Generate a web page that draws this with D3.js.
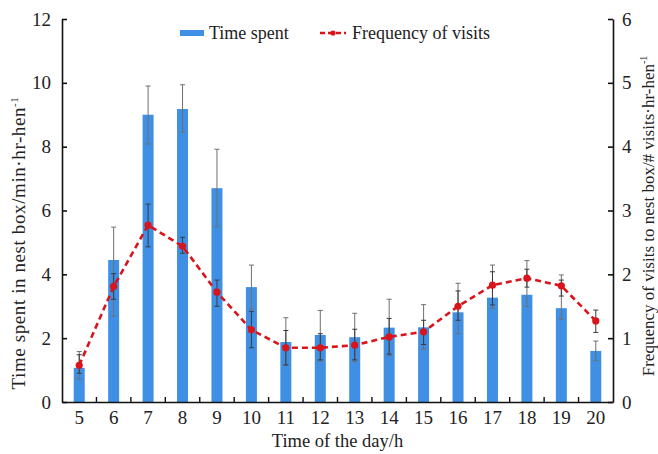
<!DOCTYPE html>
<html>
<head>
<meta charset="utf-8">
<script src="https://cdn.jsdelivr.net/npm/d3@7"></script>
<style>
  body { margin: 0; background: #fff; }
  text { font-family: "Liberation Serif", "Times New Roman", serif; fill: #222; }
</style>
</head>
<body>
<div id="chart"></div>
<script>
// hours of the day
const hours = [5, 6, 7, 8, 9, 10, 11, 12, 13, 14, 15, 16, 17, 18, 19, 20];
// time spent in nest box (min/hr/hen), with error bar ends
const timeMean = [1.07, 4.45, 9.0, 9.18, 6.7, 3.6, 1.88, 2.1, 2.03, 2.33, 2.34, 2.81, 3.27, 3.36, 2.94, 1.6];
const timeHi = [1.58, 5.48, 9.9, 9.94, 7.92, 4.29, 2.64, 2.87, 2.78, 3.22, 3.05, 3.72, 4.29, 4.43, 3.98, 1.91];
const timeLo = [0.72, 2.69, 8.08, 8.46, 5.49, 2.91, 1.16, 1.28, 1.26, 1.45, 1.66, 2.15, 2.94, 2.99, 2.59, 1.29];
// frequency of visits (visits/hr/hen), with error bar ends
const visitMean = [0.575, 1.81, 2.77, 2.44, 1.72, 1.13, 0.85, 0.85, 0.89, 1.02, 1.1, 1.5, 1.83, 1.94, 1.82, 1.27];
const visitHi = [0.74, 2.01, 3.1, 2.58, 1.91, 1.42, 1.12, 1.07, 1.14, 1.31, 1.28, 1.74, 2.04, 2.08, 1.91, 1.44];
const visitLo = [0.45, 1.61, 2.43, 2.33, 1.5, 0.85, 0.58, 0.66, 0.66, 0.75, 0.9, 1.28, 1.52, 1.8, 1.66, 1.09];
const leftTicks = [0, 2, 4, 6, 8, 10, 12];
const rightTicks = [0, 1, 2, 3, 4, 5, 6];

const width = 658, height = 454;
const margin = {top: 19, right: 45, bottom: 52, left: 62};

const svg = d3.select("#chart").append("svg")
  .attr("width", width).attr("height", height);

const x = d3.scaleBand().domain(hours)
  .range([margin.left, width - margin.right]);
const yL = d3.scaleLinear().domain([0, 12]).range([height - margin.bottom, margin.top]);
const yR = d3.scaleLinear().domain([0, 6]).range([height - margin.bottom, margin.top]);
const cx = h => x(h) + x.bandwidth() / 2;
const barW = 11;

//Bars
svg.selectAll("rect.bar")
  .data(hours)
  .enter()
  .append("rect")
  .attr("class", "bar")
  .attr("x", (h) => cx(h) - barW / 2)
  .attr("y", (h, i) => yL(timeMean[i]))
  .attr("width", barW)
  .attr("height", (h, i) => yL(0) - yL(timeMean[i]))
  .attr("fill", "#3f90e5");

//Error bars
function errBars(cls, lo, hi, scale, color) {
  const g = svg.append("g").attr("class", cls)
    .attr("stroke", color).attr("stroke-width", 1);
  hours.forEach((h, i) => {
    g.append("line").attr("x1", cx(h)).attr("x2", cx(h))
      .attr("y1", scale(lo[i])).attr("y2", scale(hi[i]));
    [lo[i], hi[i]].forEach(v => {
      g.append("line").attr("x1", cx(h) - 2.5).attr("x2", cx(h) + 2.5)
        .attr("y1", scale(v)).attr("y2", scale(v));
    });
  });
}
errBars("err-time", timeLo, timeHi, yL, "#6f6f6f");
errBars("err-visit", visitLo, visitHi, yR, "#3a3a3a");

//Frequency line
const line = d3.line()
  .x((d, i) => cx(hours[i]))
  .y(d => yR(d));
svg.append("path")
  .datum(visitMean)
  .attr("d", line)
  .attr("fill", "none")
  .attr("stroke", "#d9141b")
  .attr("stroke-width", 2.6)
  .attr("stroke-dasharray", "6,4");
svg.selectAll("circle.pt")
  .data(visitMean)
  .enter()
  .append("circle")
  .attr("class", "pt")
  .attr("cx", (d, i) => cx(hours[i]))
  .attr("cy", d => yR(d))
  .attr("r", 3.6)
  .attr("fill", "#d9141b");

//Axes
const fs = "19px";
const xAxis = svg.append("g")
  .attr("transform", `translate(0,${height - margin.bottom})`)
  .call(d3.axisBottom(x).tickSize(0).tickPadding(9));
xAxis.selectAll("text").style("font-size", fs);
xAxis.select(".domain").attr("stroke", "#111").attr("stroke-width", 1.6);
//inward ticks between categories
svg.append("g").selectAll("line")
  .data(hours.slice(1))
  .enter()
  .append("line")
  .attr("x1", h => x(h)).attr("x2", h => x(h))
  .attr("y1", yL(0)).attr("y2", yL(0) - 5)
  .attr("stroke", "#111").attr("stroke-width", 1.4);

const leftAxis = svg.append("g")
  .attr("transform", `translate(${margin.left},0)`)
  .call(d3.axisLeft(yL).tickValues(leftTicks).tickSizeInner(-5).tickSizeOuter(0).tickPadding(11));
leftAxis.selectAll("text").style("font-size", fs);
leftAxis.selectAll("line, .domain").attr("stroke", "#111").attr("stroke-width", 1.6);

const rightAxis = svg.append("g")
  .attr("transform", `translate(${width - margin.right},0)`)
  .call(d3.axisRight(yR).tickValues(rightTicks).tickFormat(d3.format("d"))
    .tickSizeInner(-5).tickSizeOuter(0).tickPadding(9));
rightAxis.selectAll("text").style("font-size", fs);
rightAxis.selectAll("line, .domain").attr("stroke", "#111").attr("stroke-width", 1.6);

//Axis titles
svg.append("text")
  .attr("x", (margin.left + width - margin.right) / 2)
  .attr("y", 447)
  .attr("text-anchor", "middle")
  .style("font-size", "18.5px")
  .text("Time of the day/h");

const lt = svg.append("text")
  .attr("transform", "translate(25,243) rotate(-90)")
  .attr("text-anchor", "middle")
  .style("font-size", "19px")
  .style("letter-spacing", "0.6px");
lt.append("tspan").text("Time spent in nest box/min·hr-hen");
lt.append("tspan").attr("dy", -7).style("font-size", "11px").text("-1");

const rt = svg.append("text")
  .attr("transform", "translate(654,216) rotate(-90)")
  .attr("text-anchor", "middle")
  .style("font-size", "17px");
rt.append("tspan").text("Frequency of visits to nest box/# visits·hr-hen");
rt.append("tspan").attr("dy", -7).style("font-size", "10px").text("-1");

//Legend
const leg = svg.append("g");
leg.append("rect").attr("x", 180).attr("y", 30).attr("width", 24).attr("height", 6).attr("fill", "#3f90e5");
leg.append("text").attr("x", 209).attr("y", 39).style("font-size", "18px").text("Time spent");
leg.append("line").attr("x1", 320).attr("x2", 346).attr("y1", 33).attr("y2", 33)
  .attr("stroke", "#d9141b").attr("stroke-width", 2.4).attr("stroke-dasharray", "5,3");
leg.append("circle").attr("cx", 333).attr("cy", 33).attr("r", 2.6).attr("fill", "#d9141b");
leg.append("text").attr("x", 352).attr("y", 39).style("font-size", "18px").text("Frequency of visits");
</script>
</body>
</html>
